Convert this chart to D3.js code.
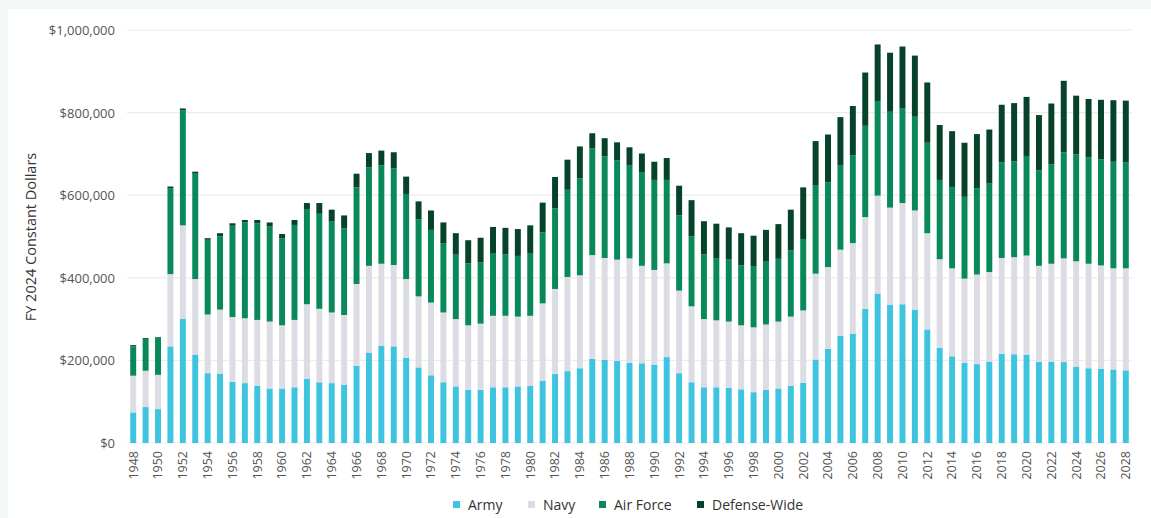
<!DOCTYPE html>
<html>
<head>
<meta charset="utf-8">
<script src="https://cdn.jsdelivr.net/npm/d3@7"></script>
<style>
  html, body { margin: 0; padding: 0; background: #f4f8f9; }
  svg { display: block; }
</style>
</head>
<body>
<svg id="chart" width="1151" height="518"></svg>
<script>
// Values in thousands of FY 2024 constant dollars
const years = d3.range(1948, 2029).map(String);
const army = [74,87,82,234,301,214,169,168,148,145,139,132,132,135,156,147,145,141,187,219,235,234,206,183,164,147,137,129,129,135,135,137,138,151,167,174,181,204,201,199,194,193,190,208,169,147,135,135,134,130,123,129,132,138,146,202,228,260,265,325,362,335,336,323,275,231,210,194,191,197,216,215,214,197,197,196,185,181,180,178,176];
const navy = [89,88,83,175,226,183,142,155,157,157,159,162,153,163,180,178,171,169,198,210,199,197,191,172,176,169,163,156,160,173,173,169,170,187,206,228,225,251,247,245,253,236,229,227,200,184,165,162,160,155,157,158,162,168,175,208,198,208,219,222,237,235,245,240,233,214,213,204,217,217,232,235,240,232,237,251,255,253,250,245,247];
const airForce = [71,77,89,207,279,255,181,177,221,232,234,230,210,230,229,230,220,210,234,238,238,234,206,187,176,168,156,150,148,152,149,147,152,172,195,211,235,258,246,240,226,227,218,202,182,169,157,151,150,145,147,152,152,160,173,213,205,205,213,221,229,232,230,227,219,192,197,198,209,214,232,232,241,231,241,257,259,258,257,258,256];
const defenseWide = [3,2,2,5,4,5,4,8,6,6,8,10,11,12,16,26,29,31,33,35,36,39,42,43,47,50,52,56,60,63,64,65,67,72,76,73,77,37,44,44,43,45,44,53,72,88,80,83,78,78,75,77,84,99,125,108,116,116,119,129,137,143,149,148,146,133,135,131,131,131,139,141,143,134,147,173,142,141,144,149,150];
const seriesNames = ["Army", "Navy", "Air Force", "Defense-Wide"];
const seriesColors = ["#3ec4df", "#dcdce4", "#09895a", "#07422a"];
const yTicks = [0, 200, 400, 600, 800, 1000];
const xTickYears = years.filter((d, i) => i % 2 === 0);

const rows = years.map((y, i) => ({
  year: y, "Army": army[i], "Navy": navy[i], "Air Force": airForce[i], "Defense-Wide": defenseWide[i]
}));

const svg = d3.select("#chart");
const font = "'Open Sans', 'Noto Sans', sans-serif";

// white panel
svg.append("rect").attr("x", 8).attr("y", 9).attr("width", 1151 - 8).attr("height", 518 - 9).attr("fill", "#ffffff");

const x = d3.scaleBand().domain(years).range([127, 1132]).paddingInner(0.52).paddingOuter(0.26);
const y = d3.scaleLinear().domain([0, 1000]).range([443, 30]);

// gridlines
svg.append("g").selectAll("line").data(yTicks).join("line")
  .attr("x1", 127).attr("x2", 1132)
  .attr("y1", d => y(d)).attr("y2", d => y(d))
  .attr("stroke", "#ececec").attr("stroke-width", 1.2);

// y axis labels
const yAxis = d3.axisLeft(y).tickValues(yTicks).tickSize(0).tickPadding(0)
  .tickFormat(d => "$" + d3.format(",")(d * 1000));
const gy = svg.append("g").attr("transform", "translate(115,0)").call(yAxis);
gy.select(".domain").remove();
gy.selectAll("text").attr("font-family", font).attr("font-size", 13).attr("fill", "#555").attr("dy", "0.35em");

// stacked bars
const stack = d3.stack().keys(seriesNames);
const stacked = stack(rows);
const color = d3.scaleOrdinal().domain(seriesNames).range(seriesColors);
svg.append("g").selectAll("g").data(stacked).join("g")
  .attr("fill", d => color(d.key))
  .selectAll("rect").data(d => d).join("rect")
  .attr("x", d => x(d.data.year))
  .attr("width", x.bandwidth())
  .attr("y", d => y(d[1]))
  .attr("height", d => y(d[0]) - y(d[1]));

// x axis labels
const xAxis = d3.axisBottom(x).tickValues(xTickYears).tickSize(0).tickPadding(0);
const gx = svg.append("g").attr("transform", "translate(0,451)").call(xAxis);
gx.select(".domain").remove();
gx.selectAll("text")
  .attr("font-family", font).attr("font-size", 12.5).attr("fill", "#555")
  .attr("transform", "rotate(-90)")
  .attr("text-anchor", "end")
  .attr("x", 0).attr("y", 0).attr("dx", 0).attr("dy", "0.35em");

// y axis title
svg.append("text")
  .attr("transform", "translate(31,237) rotate(-90)")
  .attr("text-anchor", "middle").attr("dy", "0.35em")
  .attr("font-family", font).attr("font-size", 14.5).attr("fill", "#333")
  .text("FY 2024 Constant Dollars");

// legend
const legendX = [453, 528, 599, 697];
const lg = svg.append("g").selectAll("g").data(seriesNames).join("g")
  .attr("transform", (d, i) => `translate(${legendX[i]},505)`);
lg.append("rect").attr("x", 0).attr("y", -4).attr("width", 7).attr("height", 7).attr("fill", d => color(d));
lg.append("text").attr("x", 15).attr("y", 0).attr("dy", "0.35em")
  .attr("font-family", font).attr("font-size", 14).attr("fill", "#333").text(d => d);
</script>
</body>
</html>
